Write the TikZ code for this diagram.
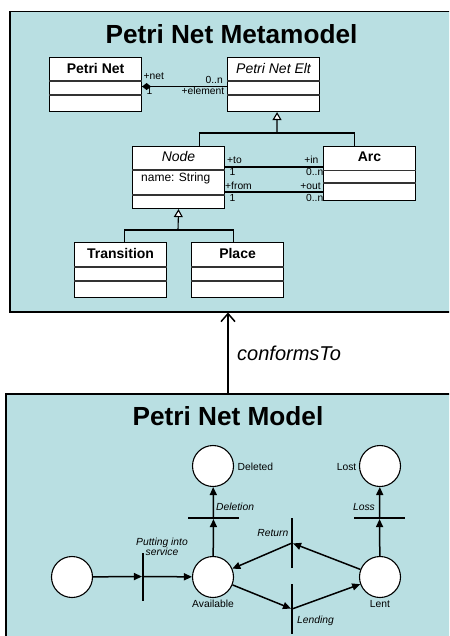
\documentclass[tikz,border=0pt]{standalone}
\usepackage{fontspec}
\setmainfont{Liberation Sans}
\usetikzlibrary{arrows.meta}
\definecolor{panelblue}{RGB}{185,223,226}
\tikzset{
  panel/.style={fill=panelblue, draw=black, line width=1.5pt, inner sep=0pt, anchor=north west},
  umlbox/.style={fill=white, draw=black, line width=1.1pt, inner sep=0pt, anchor=north west, minimum width=92pt},
  sepline/.style={draw=black!80, line width=1.2pt},
  uml/.style={draw=black, line width=1.1pt},
  gen/.style={uml, -{Triangle[open, length=8pt, width=9pt, fill=white]}},
  bigtitle/.style={font=\fontsize{26.2}{30}\selectfont\bfseries, inner sep=0pt},
  clsname/.style={font=\fontsize{14}{16}\selectfont\bfseries, anchor=base, inner sep=0pt},
  clsital/.style={font=\fontsize{14}{16}\selectfont\itshape, anchor=base, inner sep=0pt},
  role/.style={font=\fontsize{10.3}{12}\selectfont, inner sep=0pt},
  place/.style={circle, draw=black, fill=white, line width=1.1pt, minimum size=41pt, inner sep=0pt},
  vbar/.style={fill=black, inner sep=0pt, minimum width=1.7pt, minimum height=48pt},
  hbar/.style={fill=black, inner sep=0pt, minimum width=51pt, minimum height=1.7pt},
  pnarc/.style={draw=black, line width=1.5pt, -{Triangle[length=8pt, width=7pt]}},
  plabel/.style={font=\fontsize{10.3}{11}\selectfont, inner sep=0pt, anchor=base},
  tlabel/.style={font=\fontsize{10.3}{11}\selectfont\itshape, inner sep=0pt, anchor=base},
}
\begin{document}
\begin{tikzpicture}[x=1pt, y=-1pt]
\useasboundingbox (0,0) rectangle (449,636);
\clip (0,0) rectangle (449,636);

% ---------------- metamodel panel ----------------
\node[panel, minimum width=460pt, minimum height=300pt] (meta) at (9,11) {};
\node[bigtitle] (metatitle) at (231.5,34) {Petri Net Metamodel};

% class Petri Net
\node[umlbox, minimum height=54pt] (pn) at (49,57) {};
\draw[sepline] ([yshift=-24pt]pn.north west) -- ([yshift=-24pt]pn.north east);
\draw[sepline] ([yshift=-38pt]pn.north west) -- ([yshift=-38pt]pn.north east);
\node[clsname] (pnname) at ([yshift=-16.5pt]pn.north) {Petri Net};

% class Petri Net Elt
\node[umlbox, minimum height=54pt] (elt) at (227,57) {};
\draw[sepline] ([yshift=-24pt]elt.north west) -- ([yshift=-24pt]elt.north east);
\draw[sepline] ([yshift=-38pt]elt.north west) -- ([yshift=-38pt]elt.north east);
\node[clsital] (eltname) at ([yshift=-16.5pt]elt.north) {Petri Net Elt};

% composition Petri Net <>-- Petri Net Elt
\draw[uml] ([yshift=-2pt]pn.east) -- ([yshift=-2pt]elt.west);
\fill[black] ([yshift=-2pt]pn.east) -- ++(4.5,-3.5) -- ++(4.5,3.5) -- ++(-4.5,3.5) -- cycle;
\node[role, anchor=base west] (rnet) at (143.5,79.5) {+net};
\node[role, anchor=base west] (rone) at (146.5,95) {1};
\node[role, anchor=base east] (rn1) at (223,83.5) {0..n};
\node[role, anchor=base east] (relem) at (224.5,95) {+element};

% class Node
\node[umlbox, minimum height=62pt] (nd) at (132,146) {};
\draw[sepline] ([yshift=-24pt]nd.north west) -- ([yshift=-24pt]nd.north east);
\draw[sepline] ([yshift=-49pt]nd.north west) -- ([yshift=-49pt]nd.north east);
\node[clsital] (ndname) at ([yshift=-16pt]nd.north) {Node};
\node[font=\fontsize{12}{14}\selectfont, anchor=base west, inner sep=0pt] (ndattr) at (141,181.5) {name: String};

% class Arc
\node[umlbox, minimum height=54pt] (arc) at (323,146) {};
\draw[sepline] ([yshift=-24.5pt]arc.north west) -- ([yshift=-24.5pt]arc.north east);
\draw[sepline] ([yshift=-37pt]arc.north west) -- ([yshift=-37pt]arc.north east);
\node[clsname] (arcname) at ([yshift=-16pt]arc.north) {Arc};

% associations Node -- Arc
\draw[uml] ([yshift=-21pt]nd.north east) -- ([yshift=-21pt]arc.north west);
\draw[uml] ([yshift=-46pt]nd.north east) -- ([yshift=-46pt]arc.north west);
\node[role, anchor=base west] (rto) at (227,164) {+to};
\node[role, anchor=base west] (rto1) at (229.5,176) {1};
\node[role, anchor=base east] (rin) at (318.5,164) {+in};
\node[role, anchor=base east] (rinn) at (323.5,176) {0..n};
\node[role, anchor=base west] (rfrom) at (225,189.5) {+from};
\node[role, anchor=base west] (rfrom1) at (229.5,201) {1};
\node[role, anchor=base east] (rout) at (321,189.5) {+out};
\node[role, anchor=base east] (routn) at (323.5,201) {0..n};

% generalisation Node, Arc -> Petri Net Elt
\coordinate (h1) at (277,133);
\draw[uml] ([xshift=21pt]nd.north) |- (h1) -| ([xshift=-15pt]arc.north);
\draw[gen] (h1) -- ([xshift=3.5pt]elt.south);

% classes Transition and Place
\node[umlbox, minimum height=55pt] (tr) at (74,242) {};
\draw[sepline] ([yshift=-25pt]tr.north west) -- ([yshift=-25pt]tr.north east);
\draw[sepline] ([yshift=-39pt]tr.north west) -- ([yshift=-39pt]tr.north east);
\node[clsname] (trname) at ([yshift=-16pt]tr.north) {Transition};

\node[umlbox, minimum height=55pt] (pl) at (191,242) {};
\draw[sepline] ([yshift=-25pt]pl.north west) -- ([yshift=-25pt]pl.north east);
\draw[sepline] ([yshift=-39pt]pl.north west) -- ([yshift=-39pt]pl.north east);
\node[clsname] (plname) at ([yshift=-16pt]pl.north) {Place};

% generalisation Transition, Place -> Node
\coordinate (h2) at (178,230);
\draw[uml] ([xshift=4pt]tr.north) |- (h2) -| ([xshift=-4.5pt]pl.north);
\draw[gen] (h2) -- (nd.south);

% ---------------- model panel ----------------
\node[panel, minimum width=460pt, minimum height=260pt] (model) at (5,393) {};
\node[bigtitle] (modeltitle) at (228,416) {Petri Net Model};

% conformsTo
\coordinate (ct) at (228,0);
\draw[line width=1.5pt, -{Straight Barb[length=8pt, width=14pt]}] (ct |- model.north) -- (ct |- meta.south);
\node[font=\fontsize{20}{24}\selectfont\itshape, anchor=base west, inner sep=0pt] (conf) at (237,360) {conformsTo};

% places
\node[place] (start) at (72,577) {};
\node[place] (avail) at (213,577) {};
\node[place] (lent) at (380,577) {};
\node[place] (deleted) at (213,466) {};
\node[place] (lost) at (380,466) {};

\node[plabel] (lavail) at (213,607) {Available};
\node[plabel] (llent) at (380,607) {Lent};
\node[plabel, anchor=base west] (ldeleted) at (237.5,470.5) {Deleted};
\node[plabel, anchor=base east] (llost) at (356.5,470.5) {Lost};

% transitions
\node[vbar] (put) at (143,576.5) {};
\node[hbar] (del) at (213.5,518) {};
\node[hbar] (loss) at (379.5,518) {};
\node[vbar, minimum height=50pt] (ret) at (292,543) {};
\node[vbar, minimum height=50pt] (lend) at (292,609) {};

\node[tlabel, align=center, anchor=north] (lput) at (162,537.5) {Putting into\\[-0.5pt]service};
\node[tlabel, anchor=base west] (ldel) at (216,510.5) {Deletion};
\node[tlabel, anchor=base east] (lloss) at (375,510.5) {Loss};
\node[tlabel, anchor=base east] (lret) at (288.5,536) {Return};
\node[tlabel, anchor=base west] (llend) at (297,623) {Lending};

% arcs
\draw[pnarc] (start) -- (put);
\draw[pnarc] (put) -- (avail);
\draw[pnarc] (avail) -- (del);
\draw[pnarc] (del) -- (deleted);
\draw[pnarc] (lent) -- (loss);
\draw[pnarc] (loss) -- (lost);
\draw[pnarc] (lent) -- (ret);
\draw[pnarc] (ret) -- (avail);
\draw[pnarc] (avail) -- (lend);
\draw[pnarc] (lend) -- (lent);
\end{tikzpicture}
\end{document}
